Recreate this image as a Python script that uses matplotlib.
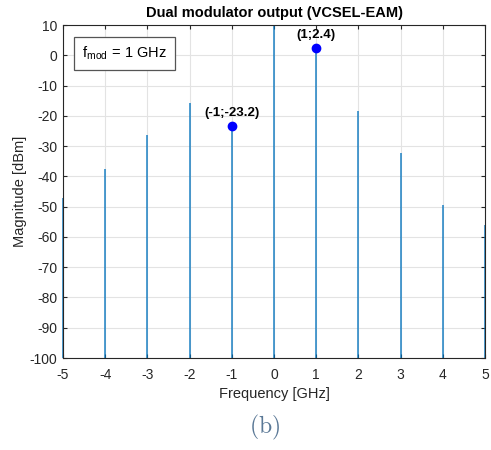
import numpy as np
import matplotlib.pyplot as plt

# spectral lines of the dual modulator output
freq = [-5, -4, -3, -2, -1, 0, 1, 2, 3, 4, 5]
mag = [-47, -37.5, -26.3, -15.8, -23.2, 10, 2.4, -18.4, -32.2, -49.4, -56]
marked_f = [-1, 1]
marked_m = [-23.2, 2.4]
marked_lbl = ["(-1;-23.2)", "(1;2.4)"]
yticks = np.arange(-100, 11, 10)
xticks = np.arange(-5, 6, 1)

plt.rcParams['mathtext.fontset'] = 'cm'
plt.rcParams['font.family'] = ['Liberation Sans', 'DejaVu Sans']
plt.rcParams['axes.unicode_minus'] = False
fig = plt.figure(figsize=(4.91, 4.5), dpi=100)
ax = fig.add_axes([0.1283, 0.2044, 0.8595, 0.74])

ln = ax.vlines(freq, -100, mag, color='#0072BD', lw=1.3, alpha=0.75)
ln.set_clip_on(False)
ax.plot(marked_f, marked_m, 'o', color='#0000FF', ms=6)
for f, m, s in zip(marked_f, marked_m, marked_lbl):
    ax.annotate(s, (f, m), xytext=(0, 5), textcoords='offset points',
                ha='center', va='bottom', fontsize=9.5, fontweight='bold')

ax.set_xlim(-5, 5)
ax.set_ylim(-100, 10)
ax.set_xticks(xticks)
ax.set_yticks(yticks)
ax.grid(True, color='#e3e3e3', lw=0.8)
ax.set_axisbelow(True)
ax.tick_params(direction='in', top=True, right=True, labelsize=10,
               colors='#262626', length=3, pad=4)
ax.tick_params(axis='x', pad=7)
for sp in ax.spines.values():
    sp.set_color('#262626')
    sp.set_linewidth(0.8)

ax.set_title("Dual modulator output (VCSEL-EAM)", fontsize=10.5,
             fontweight='bold', pad=6)
ax.set_xlabel("Frequency [GHz]", fontsize=10.5, color='#262626', labelpad=4)
ax.set_ylabel("Magnitude [dBm]", fontsize=10.5, color='#262626', labelpad=2)

ax.text(0.045, 0.915, r"f$_{\mathregular{mod}}$ = 1 GHz", transform=ax.transAxes,
        fontsize=10.5, va='center', ha='left',
        bbox=dict(boxstyle='square,pad=0.55', fc='white', ec='#555555', lw=0.9))

fig.text(0.538, 0.018, r"$\mathrm{(b)}$", fontsize=17, color='#5a7896',
         ha='center', va='bottom')

fig.savefig("out.png", dpi=100)
